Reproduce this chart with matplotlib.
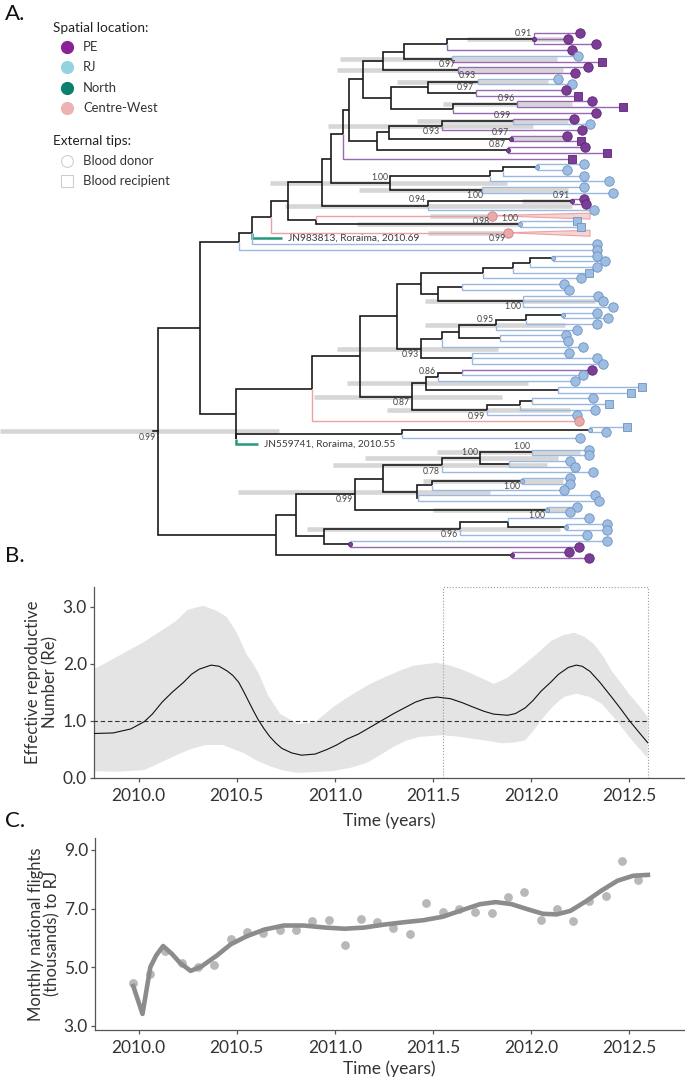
"""
Phylogeny of the outbreak (A), effective reproductive number (B)
and monthly national flights to RJ (C).
"""
import matplotlib.pyplot as plt
import numpy as np

plt.rcParams['font.family'] = ['Lato', 'DejaVu Sans']

# ---------------- panel B : Re through time ----------------
RE_YEARS = [2009.768, 2009.87, 2009.96, 2010.03, 2010.07, 2010.12, 2010.17, 2010.23,
            2010.27, 2010.31, 2010.37, 2010.41, 2010.45, 2010.48, 2010.51, 2010.535,
            2010.56, 2010.585, 2010.61, 2010.64, 2010.67, 2010.70, 2010.73, 2010.78,
            2010.83, 2010.90, 2010.96, 2011.01, 2011.06, 2011.12, 2011.21, 2011.30,
            2011.41, 2011.46, 2011.52, 2011.59, 2011.65, 2011.70, 2011.76, 2011.81,
            2011.88, 2011.92, 2011.97, 2012.01, 2012.05, 2012.10, 2012.14, 2012.19,
            2012.23, 2012.26, 2012.30, 2012.35, 2012.41, 2012.455, 2012.50, 2012.55,
            2012.594]
RE_MEDIAN = [0.78, 0.79, 0.86, 0.99, 1.12, 1.33, 1.50, 1.68,
             1.82, 1.91, 1.98, 1.96, 1.88, 1.80, 1.68, 1.52,
             1.35, 1.18, 1.02, 0.86, 0.72, 0.61, 0.52, 0.44,
             0.40, 0.42, 0.50, 0.58, 0.68, 0.77, 0.95, 1.13,
             1.33, 1.39, 1.42, 1.39, 1.32, 1.25, 1.17, 1.12,
             1.10, 1.13, 1.23, 1.36, 1.52, 1.68, 1.82, 1.94,
             1.98, 1.96, 1.87, 1.68, 1.42, 1.22, 1.01, 0.80,
             0.62]
RE_UP_YEARS = [2009.768, 2009.85, 2010.02, 2010.11, 2010.19, 2010.25, 2010.33, 2010.40,
               2010.45, 2010.50, 2010.55, 2010.58, 2010.61, 2010.66, 2010.72, 2010.81,
               2010.90, 2010.99, 2011.05, 2011.12, 2011.18, 2011.25, 2011.33, 2011.40,
               2011.52, 2011.58, 2011.65, 2011.73, 2011.81, 2011.88, 2011.95, 2012.03,
               2012.10, 2012.16, 2012.22, 2012.27, 2012.32, 2012.37, 2012.41, 2012.455,
               2012.50, 2012.55, 2012.594]
RE_UP = [1.90, 2.05, 2.37, 2.57, 2.75, 2.95, 3.02, 2.93,
         2.82, 2.55, 2.17, 2.02, 1.85, 1.45, 1.13, 0.95,
         0.98, 1.24, 1.38, 1.53, 1.65, 1.76, 1.88, 1.97,
         2.02, 1.98, 1.90, 1.78, 1.65, 1.76, 1.95, 2.18,
         2.40, 2.50, 2.55, 2.48, 2.35, 2.12, 1.88, 1.68,
         1.47, 1.27, 1.07]
RE_LOW_YEARS = [2009.768, 2009.90, 2010.03, 2010.10, 2010.18, 2010.26, 2010.34, 2010.43,
                2010.54, 2010.60, 2010.675, 2010.74, 2010.81, 2010.99, 2011.08, 2011.16,
                2011.23, 2011.30, 2011.36, 2011.43, 2011.54, 2011.62, 2011.70, 2011.78,
                2011.85, 2011.91, 2011.97, 2012.01, 2012.05, 2012.11, 2012.166, 2012.23,
                2012.30, 2012.36, 2012.43, 2012.50, 2012.55, 2012.594]
RE_LOW = [0.12, 0.11, 0.14, 0.25, 0.38, 0.50, 0.58, 0.58,
          0.43, 0.31, 0.20, 0.13, 0.09, 0.12, 0.18, 0.26,
          0.40, 0.55, 0.65, 0.72, 0.75, 0.73, 0.69, 0.65,
          0.61, 0.62, 0.66, 0.82, 1.01, 1.25, 1.42, 1.48,
          1.42, 1.30, 1.03, 0.72, 0.52, 0.35]
BOX_START, BOX_END = 2011.553, 2012.595

# ---------------- panel C : flights ----------------
FLIGHT_MONTHS = [2009.973, 2010.056, 2010.136, 2010.22, 2010.303, 2010.385, 2010.47, 2010.554,
                 2010.634, 2010.719, 2010.80, 2010.884, 2010.968, 2011.052, 2011.133, 2011.216,
                 2011.298, 2011.383, 2011.467, 2011.55, 2011.632, 2011.714, 2011.80, 2011.88,
                 2011.966, 2012.048, 2012.13, 2012.213, 2012.297, 2012.38, 2012.462, 2012.545]
FLIGHTS = [4.45, 4.75, 5.55, 5.13, 5.00, 5.07, 5.96, 6.20,
           6.15, 6.27, 6.26, 6.56, 6.62, 5.75, 6.65, 6.55,
           6.32, 6.12, 7.20, 6.87, 6.98, 6.87, 6.86, 7.41,
           7.55, 6.62, 7.00, 6.56, 7.27, 7.44, 8.62, 7.97]
FIT_YEARS = [2009.973, 2010.02, 2010.06, 2010.09, 2010.125, 2010.17, 2010.21, 2010.265,
             2010.32, 2010.40, 2010.47, 2010.55, 2010.64, 2010.74, 2010.84, 2010.95,
             2011.05, 2011.15, 2011.25, 2011.35, 2011.45, 2011.55, 2011.65, 2011.74,
             2011.82, 2011.90, 2011.98, 2012.06, 2012.13, 2012.20, 2012.28, 2012.36,
             2012.44, 2012.52, 2012.595]
FIT = [4.35, 3.40, 5.00, 5.40, 5.72, 5.45, 5.15, 4.87,
       5.02, 5.40, 5.78, 6.05, 6.28, 6.42, 6.42, 6.35,
       6.31, 6.35, 6.45, 6.53, 6.60, 6.72, 6.95, 7.15,
       7.22, 7.15, 6.98, 6.82, 6.80, 6.92, 7.25, 7.62,
       7.95, 8.12, 8.15]

XTICKS = [2010.0, 2010.5, 2011.0, 2011.5, 2012.0, 2012.5]

# ---------------- panel A : tree ----------------
LOCATIONS = ['PE', 'RJ', 'North', 'Centre-West']
LEGEND_COL = ['#8b2197', '#93d2de', '#0d7f6e', '#eeb2b2']
FILL = {'P': '#7c3d97', 'R': '#9dbde2', 'N': '#1f9077', 'C': '#eca9a9'}
EDGE = {'P': '#5c2573', 'R': '#6e91c0', 'N': '#1f9077', 'C': '#c98484'}
LINE = {'P': '#9868b5', 'R': '#9bb8de', 'N': '#23997d', 'C': '#eaa2a2'}


def N(x, *kids, lab=None, below=False, hpd=None, dot=None):
    return {'x': x, 'kids': list(kids), 'loc': None, 'lab': lab,
            'below': below, 'hpd': hpd, 'dot': dot}


def T(x, loc, shape='o', end=None, name=None, lab=None, below=False, hpd=None):
    return {'x': x, 'kids': [], 'loc': loc, 'shape': shape, 'end': end, 'name': name,
            'lab': lab, 'below': below, 'hpd': hpd, 'dot': None}


# node heights on the tree time axis (arbitrary units)
pe_group = N(343,
    N(349,
        N(363,
            N(383,
                N(404,
                    N(447,
                        N(534, T(580, 'P'), T(568, 'P'), T(596, 'P'),
                          lab='0.91', dot='P', hpd=(467, 563)),
                        T(572, 'P')),
                    N(452, T(578, 'R'), T(602, 'P', 's'), hpd=(340, 557))),
                N(458, T(588, 'P'), T(575, 'P'), lab='0.97', hpd=(337, 563))),
            N(391,
                N(428,
                    N(478, T(558, 'R'), T(572, 'R'), lab='0.93', hpd=(397, 548)),
                    N(476, T(566, 'P'), T(578, 'P', 's'), lab='0.97')),
                N(453,
                    N(517, T(592, 'P'), T(623, 'P', 's'), lab='0.96', hpd=(443, 572)),
                    T(596, 'P')))),
        N(377,
            N(389,
                N(442,
                    N(513, T(574, 'P'), T(590, 'R'), lab='0.99', hpd=(417, 568)),
                    T(582, 'P'), lab='0.93', below=True, hpd=(328, 533)),
                N(511, T(567, 'P'), T(581, 'P', 's'), lab='0.97', dot='P', hpd=(512, 570))),
            N(508, T(585, 'P'), T(607, 'P', 's'), lab='0.87', dot='P'))),
    T(572, 'P', 's'))

rj_clade = N(390,
    N(490,
        N(503,
            N(537, T(584, 'R'), T(567, 'R'), dot='R'),
            T(584, 'R')),
        T(609, 'R')),
    N(482, T(584, 'R'), T(613, 'R'), hpd=(359, 568)),
    lab='1.00', hpd=(270, 507))

clade_094 = N(428,
    N(485, N(572, T(584, 'P'), T(586, 'P'), lab='0.91', dot='P', hpd=(522, 573)), lab='1.00'),
    T(594, 'R'), lab='0.94', hpd=(285, 572))

upper_a = N(271,
    N(288,
        N(322, N(331, pe_group, rj_clade), clade_094),
        N(316,
            T(492, 'C', 'wedge', end=590, lab='0.98', below=True, hpd=(430, 492)),
            N(520, T(577, 'R', 's'), T(581, 'R', 's'), lab='1.00', dot='R', hpd=(357, 520)))),
    T(508, 'C', 'wedge', end=590, lab='0.99', below=True, hpd=(428, 508)))

upper_1 = N(239,
    N(252, upper_a, T(282, 'N', name='JN983813, Roraima, 2010.69'), T(597, 'R')),
    T(597, 'R'))

ladder = N(483,
    N(513,
        N(530, N(553, T(597, 'R'), T(605, 'R'), dot='R'), T(597, 'R')),
        T(589, 'R', 's')),
    T(581, 'R'))

clade_093 = N(421,
    N(442,
        N(459,
            N(496, N(526, N(563, T(597, 'R'), T(608, 'R'), dot='R'), T(597, 'R')),
              T(577, 'R'), lab='0.95', hpd=(425, 565)),
            N(500, T(566, 'R'), T(568, 'R'))),
        T(583, 'R')),
    N(472, T(569, 'R'), T(597, 'R'), T(603, 'R')),
    lab='0.93', below=True, hpd=(337, 498))

clade_087 = N(412,
    N(426,
        N(438, N(462, T(592, 'P'), T(583, 'R')), T(575, 'R'), lab='0.86'),
        N(558, T(642, 'R', 's'), T(631, 'R', 's')), hpd=(347, 528)),
    N(487, N(520, N(532, T(593, 'R'), T(609, 'R', 's')), T(595, 'R')), T(577, 'R'),
      lab='0.99', below=True, hpd=(387, 570)),
    lab='0.87', below=True, hpd=(314, 502))

middle = N(312,
    N(360,
        N(397,
            N(421, ladder,
              N(438, N(462, T(564, 'R'), T(569, 'R')),
                N(523, T(598, 'R'), T(603, 'R'), T(613, 'R'), lab='1.00', below=True,
                  hpd=(425, 595)))),
            clade_093),
        clade_087),
    T(579, 'C'))

upper_2 = N(236,
    middle,
    N(236.5,
        N(402, N(590, T(627, 'R', 's'), T(606, 'R'), dot='R'), T(580, 'R')),
        T(258, 'N', name='JN559741, Roraima, 2010.55')))

lower = N(276,
    N(296,
        N(355,
            N(383,
                N(442,
                    N(480,
                        N(532, T(589, 'R'), T(589, 'R'), lab='1.00', hpd=(437, 580)),
                        N(509, T(570, 'R'), T(575, 'R')), lab='1.00', hpd=(365, 558)),
                    T(593, 'R'), lab='0.78', below=True, hpd=(333, 547)),
                N(417,
                    N(432, N(522, T(570, 'R'), T(570, 'R'), lab='1.00', below=True, dot='R',
                             hpd=(423, 563)), T(564, 'R')),
                    N(418, T(595, 'R'), T(599, 'R')), hpd=(238, 490))),
            N(547, T(577, 'R'), T(570, 'R'), lab='1.00', below=True, dot='R', hpd=(433, 570)),
            lab='0.99', below=True),
        N(324,
            N(460,
                N(508, T(589, 'R'), N(566, T(607, 'R'), T(607, 'R'), dot='R')),
                T(587, 'R'), lab='0.96', below=True, hpd=(307, 560)),
            N(350, T(607, 'R'), T(579, 'P'), dot='P'))),
    N(512, T(569, 'P'), T(589, 'P'), dot='P'))

tree = N(158, N(200, upper_1, upper_2), lower, lab='0.99', below=True, hpd=(0, 279))

TIP_Y0, TIP_DY = 33.0, 5.707


def walk(node):
    yield node
    for kid in node['kids']:
        yield from walk(kid)


def set_y(node):
    if node['kids']:
        node['y'] = float(np.mean([set_y(k) for k in node['kids']]))
    return node['y']


def draw_branches(ax, node):
    for kid in node['kids']:
        if kid['loc']:
            col, lw, z = LINE[kid['loc']], (1.8 if kid['loc'] == 'N' else 1.0), 3
        else:
            col, lw, z = '#1a1a1a', 1.2, 2
        ax.plot([node['x'], node['x'], kid['x']], [node['y'], kid['y'], kid['y']],
                color=col, lw=lw, zorder=z, solid_joinstyle='miter', solid_capstyle='butt')
        draw_branches(ax, kid)


tips = [n for n in walk(tree) if not n['kids']]
for i, t in enumerate(tips):
    t['y'] = TIP_Y0 + i * TIP_DY
set_y(tree)

fig = plt.figure(figsize=(6.85, 10.79), dpi=100)

# tree axes in pixel-like coordinates over the whole figure
axT = fig.add_axes([0, 0, 1, 1])
axT.set_xlim(0, 685)
axT.set_ylim(1079, 0)
axT.axis('off')

draw_branches(axT, tree)
axT.plot([tree['x'] - 5, tree['x']], [tree['y'], tree['y']], color='#1a1a1a', lw=1.2, zorder=2)

for n in walk(tree):
    if n['hpd']:
        axT.plot(n['hpd'], [n['y'], n['y']], color='#d6d6d6', lw=3.3,
                 solid_capstyle='butt', zorder=1)
    if n['dot']:
        axT.plot(n['x'], n['y'], 'o', ms=3.2, mfc=FILL[n['dot']], mec=EDGE[n['dot']],
                 mew=0.5, zorder=6)
    if n['lab']:
        dy = 1.2 if n['below'] else -1.2
        axT.text(n['x'] - 2, n['y'] + dy, n['lab'], fontsize=6.2, color='#444444',
                 ha='right', va='top' if n['below'] else 'bottom', zorder=7)

for t in tips:
    if t['loc'] == 'N':
        axT.text(t['x'] + 6, t['y'], t['name'], fontsize=7.3, color='#3a3a3a',
                 va='center', ha='left')
        continue
    if t['shape'] == 'wedge':
        axT.fill([t['x'], t['end'], t['end']], [t['y'], t['y'] - 2.5, t['y'] + 3.5],
                 facecolor='#f5d4d4', edgecolor=LINE['C'], lw=0.8, zorder=3)
    if t['shape'] == 's':
        axT.plot(t['x'], t['y'], 's', ms=6.2, mfc=FILL[t['loc']], mec=EDGE[t['loc']],
                 mew=0.6, zorder=5)
    else:
        axT.plot(t['x'], t['y'], 'o', ms=6.8, mfc=FILL[t['loc']], mec=EDGE[t['loc']],
                 mew=0.6, zorder=5)

# legend of panel A
axT.text(5, 4, 'A.', fontsize=16, va='top', ha='left', color='#111111')
axT.text(53, 28, 'Spatial location:', fontsize=9.8, va='center', color='#222222')
for i, (name, col) in enumerate(zip(LOCATIONS, LEGEND_COL)):
    yy = 47 + i * 20.4
    axT.plot(67, yy, 'o', ms=8.5, mfc=col, mec=col)
    axT.text(83, yy, name, fontsize=9.4, va='center', color='#333333')
axT.text(53, 141, 'External tips:', fontsize=9.8, va='center', color='#222222')
axT.plot(67, 161, 'o', ms=8.5, mfc='white', mec='#cfcfcf', mew=0.8)
axT.text(83, 161, 'Blood donor', fontsize=9.4, va='center', color='#333333')
axT.plot(67, 181, 's', ms=8.0, mfc='white', mec='#cfcfcf', mew=0.8)
axT.text(83, 181, 'Blood recipient', fontsize=9.4, va='center', color='#333333')

axT.text(5, 546, 'B.', fontsize=16, va='top', ha='left', color='#111111')
axT.text(5, 811, 'C.', fontsize=16, va='top', ha='left', color='#111111')


def style_axis(ax):
    ax.set_facecolor('none')
    for side in ['top', 'right']:
        ax.spines[side].set_visible(False)
    for side in ['left', 'bottom']:
        ax.spines[side].set_color('#555555')
        ax.spines[side].set_linewidth(0.9)
    ax.tick_params(direction='out', length=3, width=0.9, color='#555555',
                   labelsize=12.5, labelcolor='#333333')
    ax.tick_params(axis='x', pad=4)
    ax.tick_params(axis='y', pad=2)
    ax.set_xticks(XTICKS)
    ax.set_xticklabels(['%.1f' % v for v in XTICKS])


# panel B
axB = fig.add_axes([94 / 685, 1 - 778 / 1079, 590 / 685, 191 / 1079])
style_axis(axB)
axB.fill(np.r_[RE_UP_YEARS, RE_LOW_YEARS[::-1]], np.r_[RE_UP, RE_LOW[::-1]],
         color='#e4e4e4', lw=0, zorder=1)
axB.plot([RE_YEARS[0], BOX_END], [1, 1], ls=(0, (4, 2.5)), color='#333333', lw=0.8, zorder=3)
axB.plot(RE_YEARS, RE_MEDIAN, color='#111111', lw=0.8, zorder=4)
axB.plot([BOX_START, BOX_START, BOX_END, BOX_END], [0, 3.35, 3.35, 0], ls=':',
         color='#9a9a9a', lw=0.8, zorder=2, clip_on=False)
axB.set_xlim(2009.773, 2012.779)
axB.set_ylim(0, 3.35)
axB.set_yticks([0, 1, 2, 3])
axB.set_yticklabels(['0.0', '1.0', '2.0', '3.0'])
axB.set_ylabel('Effective reproductive\nNumber (Re)', fontsize=12, color='#333333',
               linespacing=1.05)
axB.yaxis.set_label_coords(-0.061, 0.5)
axB.set_xlabel('Time (years)', fontsize=12.5, color='#333333', va='top')
axB.xaxis.set_label_coords(0.5, -0.178)

# panel C
axC = fig.add_axes([95 / 685, 1 - 1030 / 1079, 589 / 685, 192 / 1079])
style_axis(axC)
axC.scatter(FLIGHT_MONTHS, FLIGHTS, s=40, color='#b8b8b8', lw=0, zorder=2)
axC.plot(FIT_YEARS, FIT, color='#8c8c8c', lw=3.3, zorder=3, solid_joinstyle='round')
axC.set_xlim(2009.778, 2012.779)
axC.set_ylim(2.85, 9.41)
axC.set_yticks([3, 5, 7, 9])
axC.set_yticklabels(['3.0', '5.0', '7.0', '9.0'])
axC.set_ylabel('Monthly national flights\n(thousands) to RJ', fontsize=12, color='#333333',
               linespacing=1.05)
axC.yaxis.set_label_coords(-0.058, 0.5)
axC.set_xlabel('Time (years)', fontsize=12.5, color='#333333', va='top')
axC.xaxis.set_label_coords(0.5, -0.156)

fig.savefig('out.png', dpi=100)
plt.close(fig)
